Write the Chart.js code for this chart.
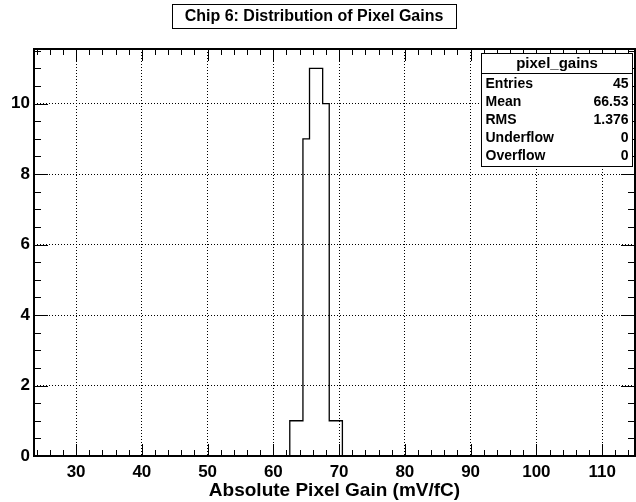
<!DOCTYPE html>
<html>
<head>
<meta charset="utf-8">
<script src="https://cdn.jsdelivr.net/npm/chart.js@4.4.1/dist/chart.umd.min.js"></script>
<style>
html,body{margin:0;padding:0;background:#fff;}
#wrap{width:636px;height:502px;position:relative;}
</style>
</head>
<body>
<div id="wrap"><canvas id="c" width="636" height="502"></canvas></div>
<script>
// ---- data ----
const binLowEdges = [62.5, 63.5, 64.5, 65.5, 66.5, 67.5, 68.5, 69.5];
const binCounts   = [1, 1, 9, 11, 11, 10, 1, 1];
const binWidth = 1;
const xRange = [23.6, 115.0];
const yMax = 11.55;
const xTickValues = [30, 40, 50, 60, 70, 80, 90, 100, 110];
const yTickValues = [0, 2, 4, 6, 8, 10];
const xMinorStep = 2;
const yMinorStep = 0.5;
const titleText = "Chip 6: Distribution of Pixel Gains";
const xAxisTitle = "Absolute Pixel Gain (mV/fC)";
const statsName = "pixel_gains";
const statsLabels = ["Entries", "Mean", "RMS", "Underflow", "Overflow"];
const statsValues = ["45", "66.53", "1.376", "0", "0"];

// build step outline from bins
const pts = [{x: xRange[0], y: 0}];
binLowEdges.forEach((e, i) => pts.push({x: e, y: binCounts[i]}));
pts.push({x: binLowEdges[binLowEdges.length - 1] + binWidth, y: 0});
pts.push({x: xRange[1], y: 0});

const FONT = "'Liberation Sans', Arial, Helvetica, sans-serif";

const rootFrame = {
  id: 'rootFrame',
  afterDatasetsDraw(chart) {
    const ctx = chart.ctx, a = chart.chartArea;
    const xs = chart.scales.x, ys = chart.scales.y;
    ctx.save();
    ctx.strokeStyle = '#000';
    ctx.lineWidth = 1;
    ctx.beginPath();
    for (let v = Math.ceil(xRange[0] / xMinorStep) * xMinorStep; v <= xRange[1] + 1e-9; v += xMinorStep) {
      const px = Math.round(xs.getPixelForValue(v)) + 0.5;
      const major = xTickValues.includes(v);
      const len = major ? 12 : 6;
      ctx.moveTo(px, a.bottom); ctx.lineTo(px, a.bottom - len);
      ctx.moveTo(px, a.top); ctx.lineTo(px, a.top + len);
    }
    for (let v = 0; v <= yMax + 1e-9; v += yMinorStep) {
      const py = Math.round(ys.getPixelForValue(v)) + 0.5;
      const major = yTickValues.includes(v);
      const len = major ? 14 : 7;
      ctx.moveTo(a.left, py); ctx.lineTo(a.left + len, py);
      ctx.moveTo(a.right, py); ctx.lineTo(a.right - len, py);
    }
    ctx.stroke();
    ctx.lineWidth = 2;
    ctx.strokeRect(a.left, a.top, a.right - a.left, a.bottom - a.top);
    ctx.restore();
  },
  afterDraw(chart) {
    const ctx = chart.ctx, a = chart.chartArea;
    ctx.save();
    ctx.fillStyle = '#fff';
    ctx.strokeStyle = '#000';
    ctx.lineWidth = 1;
    ctx.fillRect(172, 4, 284, 24);
    ctx.strokeRect(172.5, 4.5, 284, 24);
    ctx.fillStyle = '#000';
    ctx.font = "bold 16px " + FONT;
    ctx.textAlign = 'center';
    ctx.textBaseline = 'middle';
    ctx.fillText(titleText, 314, 17);
    ctx.font = "bold 19px " + FONT;
    ctx.fillText(xAxisTitle, (a.left + a.right) / 2, 491);
    const bx = 481.5, by = 53.5, bw = 151, bh = 113;
    ctx.fillStyle = '#fff';
    ctx.fillRect(bx, by, bw, bh);
    ctx.strokeRect(bx, by, bw, bh);
    ctx.beginPath();
    ctx.moveTo(bx, by + 20); ctx.lineTo(bx + bw, by + 20);
    ctx.stroke();
    ctx.fillStyle = '#000';
    ctx.font = "bold 15px " + FONT;
    ctx.textAlign = 'center';
    ctx.fillText(statsName, bx + bw / 2, by + 10.5);
    ctx.font = "bold 14px " + FONT;
    statsLabels.forEach((l, i) => {
      const y = by + 31 + i * 18;
      ctx.textAlign = 'left';
      ctx.fillText(l, bx + 4, y);
      ctx.textAlign = 'right';
      ctx.fillText(statsValues[i], bx + bw - 4, y);
    });
    ctx.restore();
  }
};

new Chart(document.getElementById('c'), {
  type: 'line',
  data: {
    datasets: [{
      data: pts,
      stepped: 'before',
      borderColor: '#000',
      borderWidth: 1.3,
      pointRadius: 0,
      fill: false,
      tension: 0
    }]
  },
  options: {
    responsive: false,
    animation: false,
    events: [],
    layout: {padding: {top: 49, right: 1, left: 0, bottom: 0}},
    plugins: {legend: {display: false}, tooltip: {enabled: false}, title: {display: false}},
    scales: {
      x: {
        type: 'linear',
        min: xRange[0], max: xRange[1],
        afterBuildTicks: s => { s.ticks = xTickValues.map(v => ({value: v})); },
        afterFit: s => { s.height = 46; },
        border: {display: false, dash: [1, 2]},
        grid: {color: '#000', lineWidth: 1, drawTicks: false, tickLength: 0},
        ticks: {color: '#000', font: {family: FONT, size: 17, weight: 'bold'}, padding: 6, maxRotation: 0, autoSkip: false}
      },
      y: {
        type: 'linear',
        min: 0, max: yMax,
        afterBuildTicks: s => { s.ticks = yTickValues.map(v => ({value: v})); },
        afterFit: s => { s.width = 34; },
        border: {display: false, dash: [1, 2]},
        grid: {color: '#000', lineWidth: 1, drawTicks: false, tickLength: 0},
        ticks: {color: '#000', font: {family: FONT, size: 17, weight: 'bold'}, padding: 4, autoSkip: false}
      }
    }
  },
  plugins: [rootFrame]
});
</script>
</body>
</html>
